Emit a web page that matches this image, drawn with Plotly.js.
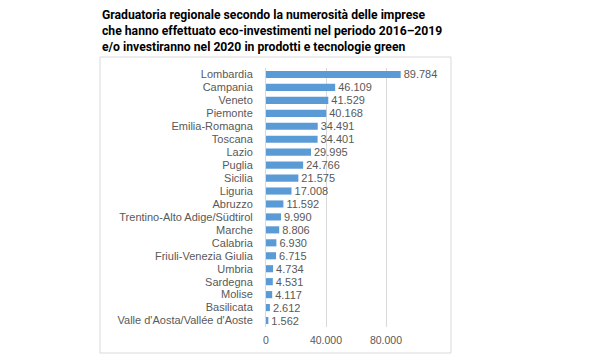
<!DOCTYPE html>
<html><head><meta charset="utf-8">
<script src="https://cdn.plot.ly/plotly-3.0.1.min.js"></script>
<style>html,body{margin:0;padding:0;background:#fff;}#chart{width:600px;height:360px;}</style>
</head><body><div id="chart"></div>
<script>
const regions = ["Lombardia","Campania","Veneto","Piemonte","Emilia-Romagna","Toscana","Lazio","Puglia","Sicilia","Liguria","Abruzzo","Trentino-Alto Adige/Südtirol","Marche","Calabria","Friuli-Venezia Giulia","Umbria","Sardegna","Molise","Basilicata","Valle d'Aosta/Vallée d'Aoste"];
const imprese = [89784,46109,41529,40168,34491,34401,29995,24766,21575,17008,11592,9990,8806,6930,6715,4734,4531,4117,2612,1562];
const xTicks = [0,40000,80000];
const xTickLabels = ["0","40.000","80.000"];
const titleText = "Graduatoria regionale secondo la numerosità delle imprese<br>che hanno effettuato eco-investimenti nel periodo 2016–2019<br>e/o investiranno nel 2020 in prodotti e tecnologie green";

const L=266, R=416, T=68, B=327;
const px = v => (v-L)/(R-L);
const py = v => (B-v)/(B-T);

Plotly.newPlot('chart',[{
  type:'bar', orientation:'h',
  y: regions, x: imprese,
  marker:{color:'#5B9BD5'},
  texttemplate:'%{x:,.0f}', textposition:'outside', constraintext:'none',
  textfont:{family:'Liberation Sans, Arial, sans-serif', size:11, color:'#595959'},
  cliponaxis:false, hoverinfo:'none'
}],{
  width:600, height:360,
  separators:',.',
  margin:{l:L, r:600-R, t:T, b:360-B, pad:0},
  paper_bgcolor:'#fff', plot_bgcolor:'#fff',
  bargap:0.45,
  showlegend:false,
  font:{family:'Liberation Sans, Arial, sans-serif', color:'#595959'},
  xaxis:{range:[0,100000], tickmode:'array', tickvals:xTicks, ticktext:xTickLabels, showgrid:true, gridcolor:'#d9d9d9', gridwidth:1,
    zeroline:false, showline:false, ticks:'', tickfont:{size:10.5, color:'#595959'}, ticklabelstandoff:5, fixedrange:true},
  yaxis:{autorange:'reversed', tickmode:'array', tickvals:regions, ticktext:regions, ticks:'', showline:true, linecolor:'#d9d9d9', linewidth:1, showgrid:false,
    tickfont:{size:11, color:'#595959'}, ticklabelstandoff:10, fixedrange:true},
  annotations:[{xref:'paper', yref:'paper', x:px(100), y:py(6), xanchor:'left', yanchor:'top', align:'left',
    showarrow:false, text:'<b>'+titleText+'</b>',
    font:{family:'Roboto, sans-serif', size:12.2, color:'#000'}}],
  shapes:[{type:'rect', xref:'paper', yref:'paper', x0:px(100), x1:px(451), y0:py(353), y1:py(57),
    line:{color:'#d9d9d9', width:1}, fillcolor:'rgba(0,0,0,0)', layer:'below'}]
},{staticPlot:true});
</script></body></html>
